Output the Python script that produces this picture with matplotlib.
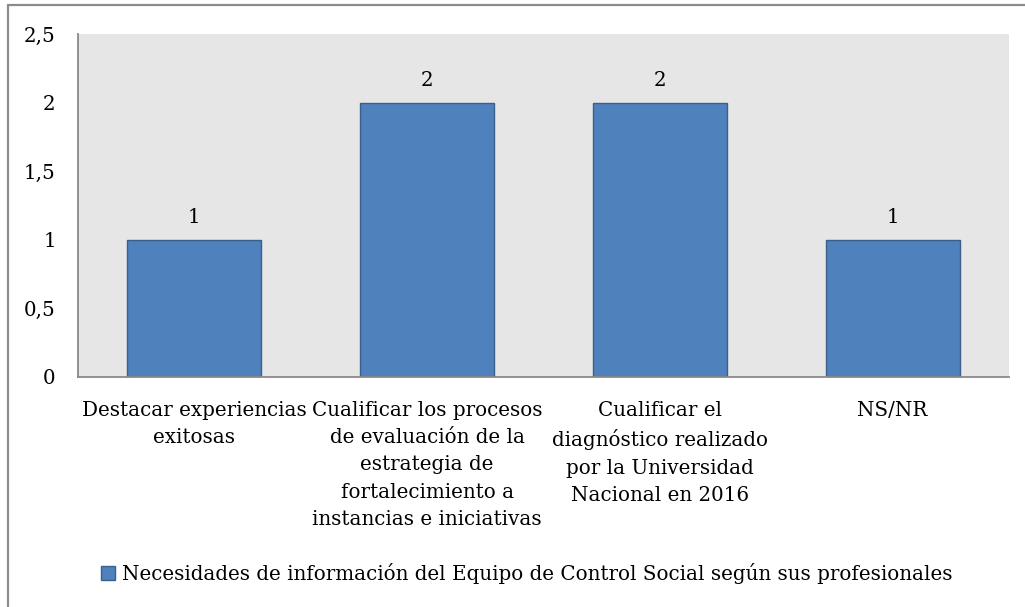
import matplotlib
matplotlib.use('Agg')
import matplotlib.pyplot as plt
from matplotlib.patches import Patch, Rectangle
from matplotlib.ticker import FuncFormatter, MultipleLocator

# Data
categories = [
    'Destacar experiencias\nexitosas',
    'Cualificar los procesos\nde evaluación de la\nestrategia de\nfortalecimiento a\ninstancias e iniciativas',
    'Cualificar el\ndiagnóstico realizado\npor la Universidad\nNacional en 2016',
    'NS/NR',
]
values = [1, 2, 2, 1]
series_name = 'Necesidades de información del Equipo de Control Social según sus profesionales'

# Style
W, H = 1025, 607
FONT = 'DejaVu Serif'
FS = 14.3
BAR_COLOR = '#4F81BD'
BAR_EDGE = '#3A5F8B'
AXIS_GRAY = '#898989'

plt.rcParams['font.family'] = FONT
plt.rcParams['font.size'] = FS


def comma_fmt(v, _):
    return ('%g' % v).replace('.', ',')


def main():
    fig = plt.figure(figsize=(W / 100, H / 100), dpi=100)

    # outer chart frame (right and bottom edges fall outside the image)
    fig.patches.append(Rectangle((7.5 / W, -0.05), 1.1, 1 - 4.5 / H + 0.05,
                                 transform=fig.transFigure, fill=False,
                                 edgecolor='#8C8C8C', linewidth=1.6))

    ax = fig.add_axes([78 / W, (H - 377) / H, 931 / W, 343 / H])
    ax.set_facecolor('#E6E6E6')

    x = range(len(categories))
    bars = ax.bar(x, values, width=0.575, color=BAR_COLOR,
                  edgecolor=BAR_EDGE, linewidth=1.0)
    ax.bar_label(bars, labels=[str(v) for v in values], padding=9, fontsize=FS)

    ax.set_xlim(-0.5, len(categories) - 0.5)
    ax.set_ylim(0, 2.5)
    ax.yaxis.set_major_locator(MultipleLocator(0.5))
    ax.yaxis.set_major_formatter(FuncFormatter(comma_fmt))

    ax.set_xticks(list(x))
    ax.set_xticklabels(categories, linespacing=1.56)
    ax.tick_params(axis='x', length=0, pad=17)
    ax.tick_params(axis='y', length=0, pad=16)

    for side in ('top', 'right'):
        ax.spines[side].set_visible(False)
    for side in ('left', 'bottom'):
        ax.spines[side].set_color(AXIS_GRAY)
        ax.spines[side].set_linewidth(1.3)

    handle = Patch(facecolor=BAR_COLOR, edgecolor=BAR_EDGE, linewidth=1.0)
    fig.legend([handle], [series_name], loc='center',
               bbox_to_anchor=(526.5 / W, 1 - 573 / H), frameon=False,
               handlelength=0.7, handleheight=0.7, handletextpad=0.35,
               borderpad=0, fontsize=FS)

    fig.savefig('out.png', dpi=100)


if __name__ == '__main__':
    main()
